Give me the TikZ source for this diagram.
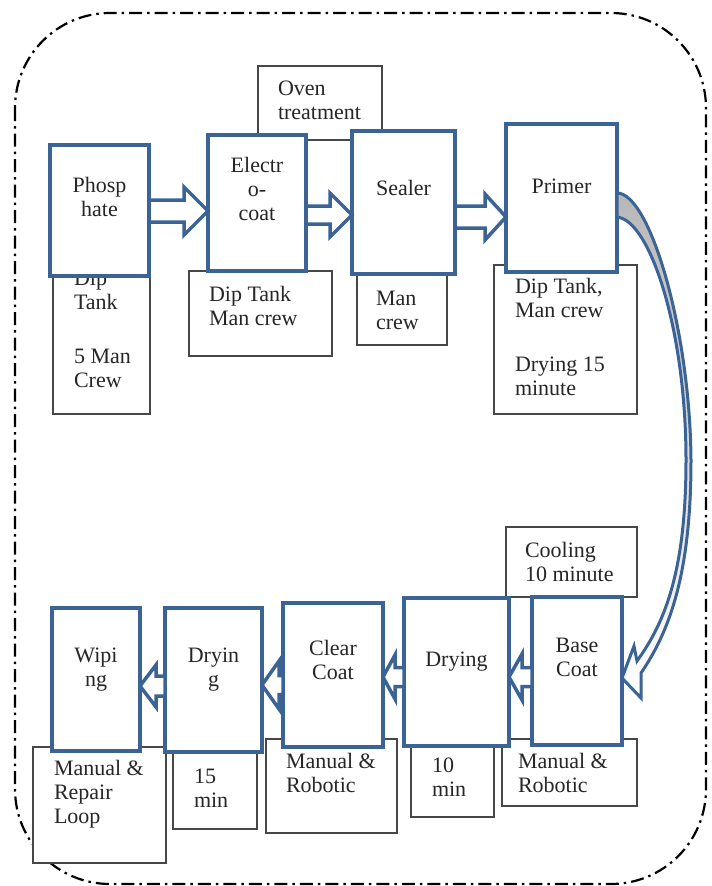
\documentclass[tikz,border=0pt]{standalone}
\usepackage{fontspec}
\setmainfont{Liberation Serif}
\usetikzlibrary{calc}
\definecolor{bboxblue}{RGB}{59,99,150}
\newcommand\bx[6]{%
  \pgfmathsetmacro\bxcx{(#3+#5)/2}%
  \pgfmathsetmacro\bxcy{(#4+#6)/2}%
  \pgfmathsetmacro\bxw{#5-#3}%
  \pgfmathsetmacro\bxh{#6-#4}%
  \node[#1, minimum width=\bxw pt, minimum height=\bxh pt] (#2) at (\bxcx,\bxcy) {};}
\newcommand\txtL[4]{\node[txt,anchor=north west] (#1) at (#2,#3-16.8) {\strut #4};}
\newcommand\txtC[4]{\node[txt,anchor=north,align=center] (#1) at (#2,#3-16.8) {\strut #4};}
% right-pointing block arrow: from, to, y, shaft half, head half, head length
\newcommand\rarr[6]{%
  \coordinate (as) at (#1.east |- 0,#3);
  \coordinate (at) at (#2.west |- 0,#3);
  \draw[barrow] ($(as)+(0,-#4)$) -- ($(at)+(-#6,-#4)$) -- ($(at)+(-#6,-#5)$) -- (at)
     -- ($(at)+(-#6,#5)$) -- ($(at)+(-#6,#4)$) -- ($(as)+(0,#4)$) -- cycle;}
% left-pointing block arrow
\newcommand\larr[6]{%
  \coordinate (as) at (#1.west |- 0,#3);
  \coordinate (at) at (#2.east |- 0,#3);
  \draw[barrow] ($(as)+(0,-#4)$) -- ($(at)+(#6,-#4)$) -- ($(at)+(#6,-#5)$) -- (at)
     -- ($(at)+(#6,#5)$) -- ($(at)+(#6,#4)$) -- ($(as)+(0,#4)$) -- cycle;}
\begin{document}
\begin{tikzpicture}[x=1pt,y=-1pt,
  bluebox/.style={draw=bboxblue, line width=4pt, fill=white, inner sep=0pt, outer sep=0pt},
  graybox/.style={draw=black!72, line width=1.4pt, fill=white, inner sep=0pt, outer sep=0pt},
  txt/.style={inner sep=0pt, outer sep=0pt, text=black!85, font=\fontsize{22}{24}\selectfont, align=left},
  barrow/.style={draw=bboxblue, line width=3.5pt, fill=white, line join=miter},
  outerframe/.style={draw=black, line width=2.2pt, dash pattern=on 13pt off 5pt on 2.5pt off 5pt, rounded corners=95pt}]
\useasboundingbox (0,0) rectangle (712,886);
\draw[outerframe] (15,13) rectangle (706,884);

% gray boxes
\bx{graybox}{phsub}{53}{258}{150}{414}
\bx{graybox}{oven}{258}{66}{382}{140}
\bx{graybox}{elsub}{189}{271}{332}{356}
\bx{graybox}{sesub}{357}{268}{447}{345}
\bx{graybox}{prsub}{494}{265}{637}{414}
\bx{graybox}{cool}{506}{527}{637}{597}
\bx{graybox}{basesub}{502}{739}{637}{806}
\bx{graybox}{drsub}{411}{735}{494}{817}
\bx{graybox}{clsub}{266}{739}{397}{833}
\bx{graybox}{drtwosub}{173}{745}{257}{829}
\bx{graybox}{wisub}{33}{747}{166}{863}

\txtL{tphsub}{74}{285}{Dip\\Tank\\[30pt]5 Man\\Crew}
\txtL{toven}{278}{95}{Oven\\treatment}
\txtL{telsub}{209}{301}{Dip Tank\\Man crew}
\txtL{tsesub}{376}{305}{Man\\crew}
\txtL{tprsub}{515}{293}{Dip Tank,\\Man crew\\[30pt]Drying 15\\minute}
\txtL{tcool}{525}{557}{Cooling\\10 minute}
\txtL{tbasesub}{518}{768}{Manual \&\\Robotic}
\txtL{tdrsub}{432}{772}{10\\min}
\txtL{tclsub}{286}{768}{Manual \&\\Robotic}
\txtL{tdrtwosub}{194}{783}{15\\min}
\txtL{twisub}{54}{775}{Manual \&\\Repair\\Loop}

% blue boxes
\bx{bluebox}{phos}{50}{145}{149}{276}
\bx{bluebox}{elec}{208}{135}{306}{271}
\bx{bluebox}{seal}{352}{131}{455}{274}
\bx{bluebox}{prim}{506}{124}{617}{272}
\bx{bluebox}{base}{532}{597}{622}{745}
\bx{bluebox}{dryone}{404}{598}{509}{746}
\bx{bluebox}{clear}{283}{603}{383}{747}
\bx{bluebox}{drytwo}{165}{608}{262}{752}
\bx{bluebox}{wipe}{52}{608}{140}{751}

\txtC{tphos}{99.5}{192}{Phosp\\hate}
\txtC{telec}{257}{172}{Electr\\o-\\coat}
\txtC{tseal}{403.5}{195}{Sealer}
\txtC{tprim}{561.5}{193}{Primer}
\txtC{tbase}{577}{652}{Base\\Coat}
\txtC{tdryone}{456.5}{666}{Drying}
\txtC{tclear}{333}{655}{Clear\\Coat}
\txtC{tdrytwo}{213.5}{662}{Dryin\\g}
\txtC{twipe}{96}{662}{Wipi\\ng}

% straight block arrows
\rarr{phos}{elec}{211}{11}{24}{24}
\rarr{elec}{seal}{215}{9}{22}{22}
\rarr{seal}{prim}{217}{11}{23}{21}
\larr{base}{dryone}{677}{9.5}{23}{13}
\larr{dryone}{clear}{677}{9.5}{22}{12}
\larr{clear}{drytwo}{685}{9.5}{24}{17}
\larr{drytwo}{wipe}{686}{10}{21}{16}

% curved block arrow from Primer to Base Coat
\draw[barrow, top color=black!28, middle color=white, bottom color=white, line width=3pt]
  (prim.east |- 0,217) .. controls (650,220) and (686,330) .. (686,460)
  .. controls (686,575) and (663,625) .. (637,661)
  -- (634,646) -- (base.east |- 0,678) -- (641,698) -- (641,673)
  .. controls (669,632) and (691,575) .. (691,460)
  .. controls (690,330) and (650,193) .. (prim.east |- 0,193) -- cycle;
\end{tikzpicture}
\end{document}
